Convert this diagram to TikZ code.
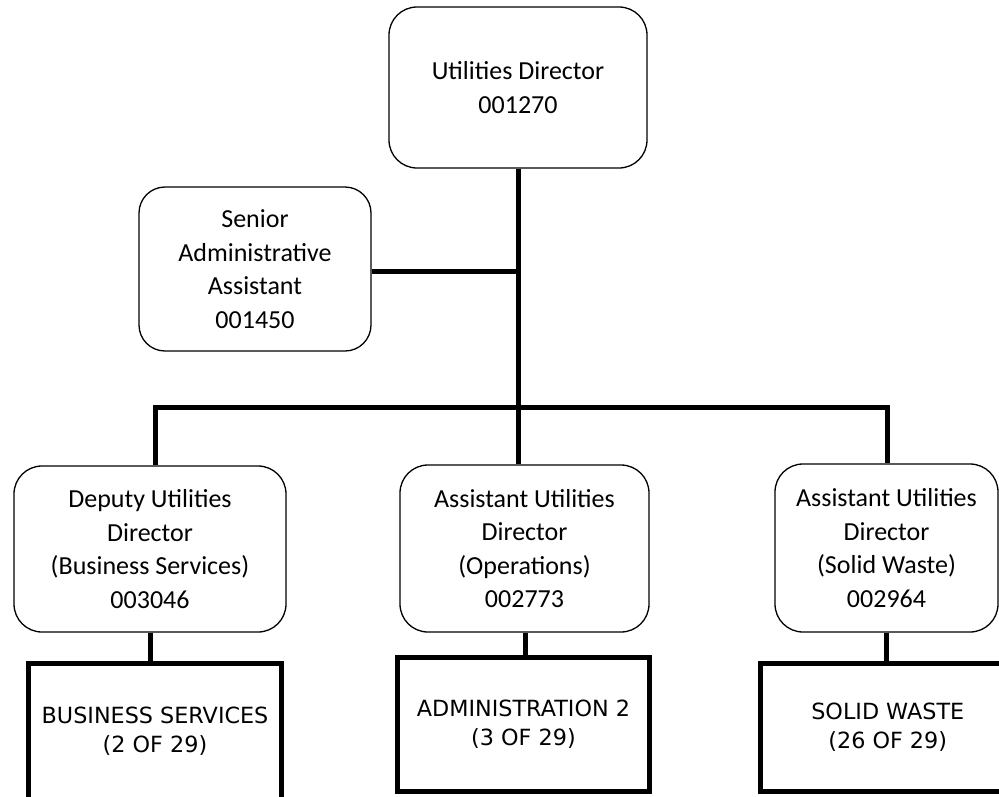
\documentclass[tikz,border=0pt]{standalone}
\usepackage{fontspec}
\newfontfamily\carlito{Carlito}
\newfontfamily\dejavu{DejaVu Sans}
\begin{document}
\begin{tikzpicture}[x=1pt,y=-1pt,
  rbox/.style={draw, line width=1.3pt, rounded corners=28pt, align=center, inner sep=0pt,
    font=\carlito\fontsize{26}{33.5}\selectfont},
  sbox/.style={draw, line width=5pt, align=center, inner sep=0pt,
    font=\dejavu\fontsize{22.3}{29}\selectfont},
  link/.style={line width=5pt}]
\fill[white] (0,0) rectangle (999,796);
\useasboundingbox (0,0) rectangle (999,796);
\clip (0,0) rectangle (999,796);

% rounded boxes
\node[rbox, minimum width=258pt, minimum height=161pt] (dir) at (518,87.5) {Utilities Director\\001270};
\node[rbox, minimum width=232pt, minimum height=164pt, rounded corners=26pt] (sec) at (255,269) {Senior\\Administrative\\Assistant\\001450};
\node[rbox, minimum width=272pt, minimum height=166pt] (dep) at (150,549) {Deputy Utilities\\Director\\(Business Services)\\003046};
\node[rbox, minimum width=249pt, minimum height=167pt] (ops) at (524.5,548.5) {Assistant Utilities\\Director\\(Operations)\\002773};
\node[rbox, minimum width=223pt, minimum height=168pt] (sw) at (886.5,548) {Assistant Utilities\\Director\\(Solid Waste)\\002964};

% square boxes
\node[sbox, minimum width=253pt, minimum height=136pt] (bs) at (155,731.5) {BUSINESS SERVICES\\(2 OF 29)};
\node[sbox, minimum width=252pt, minimum height=134pt] (adm) at (523.5,724.5) {ADMINISTRATION 2\\(3 OF 29)};
\node[sbox, minimum width=254pt, minimum height=128pt] (swb) at (887.75,727.5) {SOLID WASTE\\(26 OF 29)};

% connectors
\coordinate (barL) at (155,407);
\coordinate (barR) at (887,407);
\coordinate (secj) at (518,271);
\draw[link] (dir.south) -- (dir.south |- ops.north);
\draw[link] (sec.east |- secj) -- (secj);
\draw[link] (dep.north -| barL) -- (barL) -- (barR) -- (sw.north -| barR);
\draw[link] (dep.south -| bs.north) ++(-5,0) -- ++(0,29);
\draw[link] (ops.south -| adm.north) ++(1.5,0) -- ++(0,23);
\draw[link] (sw.south) -- (sw.south |- swb.north);
\end{tikzpicture}
\end{document}
